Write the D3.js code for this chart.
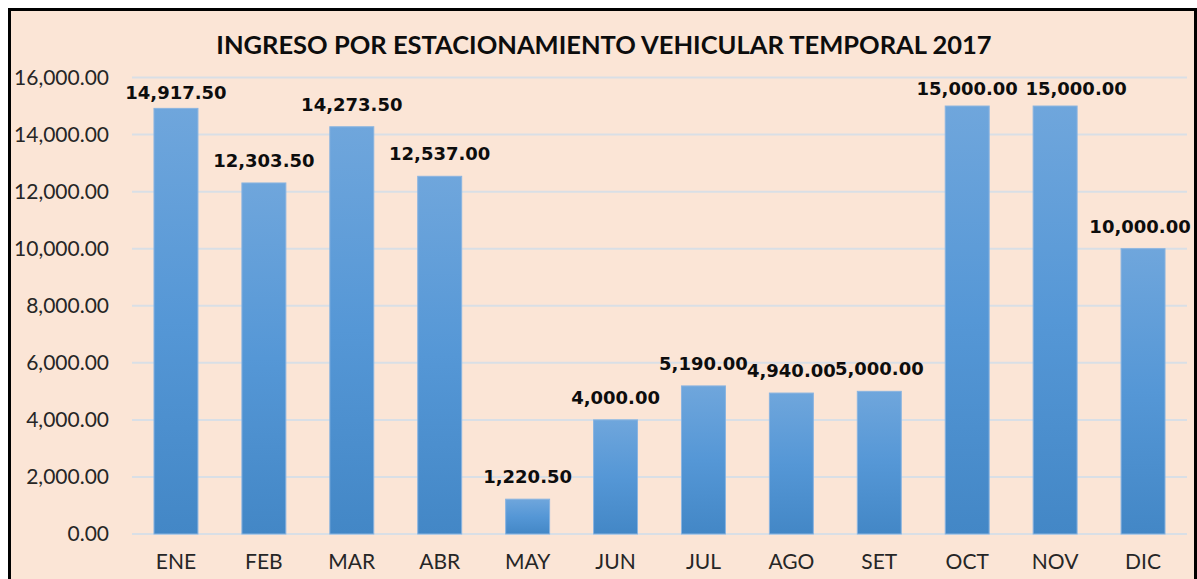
<!DOCTYPE html>
<html>
<head>
<meta charset="utf-8">
<script src="https://cdn.jsdelivr.net/npm/d3@7"></script>
<style>
  body { margin: 0; background: #fff; }
  svg { display: block; }
</style>
</head>
<body>
<script>
const months = ['ENE', 'FEB', 'MAR', 'ABR', 'MAY', 'JUN', 'JUL', 'AGO', 'SET', 'OCT', 'NOV', 'DIC'];
const ingresos = [14917.5, 12303.5, 14273.5, 12537, 1220.5, 4000, 5190, 4940, 5000, 15000, 15000, 10000];
const yTicks = [0, 2000, 4000, 6000, 8000, 10000, 12000, 14000, 16000];
const title = 'INGRESO POR ESTACIONAMIENTO VEHICULAR TEMPORAL 2017';

// labels that were dragged by hand in the original (px)
const labelDx = { NOV: 21, DIC: -3 };
const labelGap = { ENE: 9, OCT: 11, NOV: 11 };

const w = 1197;
const h = 579;
const plotLeft = 132, plotRight = 1187, plotTop = 77.5, plotBottom = 534;

const fmt = d3.format(',.2f');

const svg = d3.select('body')
    .append('svg')
    .attr('width', w)
    .attr('height', h)

// gradient for bars (lighter at top)
const grad = svg.append('defs')
    .append('linearGradient')
    .attr('id', 'barGrad')
    .attr('x1', 0).attr('y1', 0).attr('x2', 0).attr('y2', 1)
grad.append('stop').attr('offset', '0%').attr('stop-color', '#6fa6dc')
grad.append('stop').attr('offset', '50%').attr('stop-color', '#5597d6')
grad.append('stop').attr('offset', '100%').attr('stop-color', '#4387c6')

// chart area + border
svg.append('rect')
    .attr('x', 9.5)
    .attr('y', 9.5)
    .attr('width', 1186)
    .attr('height', 580)
    .attr('fill', '#fbe5d6')
    .attr('stroke', '#000')
    .attr('stroke-width', 3)

const xScale = d3.scaleBand()
    .domain(months)
    .range([plotLeft, plotRight])
    .paddingInner(0.5)
    .paddingOuter(0.25)

const yScale = d3.scaleLinear()
    .domain([0, 16000])
    .range([plotBottom, plotTop])

// gridlines
svg.append('g')
    .selectAll('line')
    .data(yTicks)
    .enter()
    .append('line')
    .attr('x1', plotLeft)
    .attr('x2', plotRight)
    .attr('y1', d => yScale(d))
    .attr('y2', d => yScale(d))
    .attr('stroke', '#d9dfe6')
    .attr('stroke-width', 2)

// y axis
const yAxis = d3.axisLeft(yScale)
    .tickValues(yTicks)
    .tickFormat(fmt)
    .tickSize(0)
    .tickPadding(0)

const yG = svg.append('g')
    .attr('transform', 'translate(109,0)')
    .call(yAxis)
yG.select('.domain').remove()
yG.selectAll('text')
    .attr('font-family', 'Lato, "Open Sans", sans-serif')
    .attr('font-size', 21)
    .attr('fill', '#262626')

// x axis
const xAxis = d3.axisBottom(xScale)
    .tickSize(0)
    .tickPadding(0)

const xG = svg.append('g')
    .attr('transform', 'translate(0,' + (plotBottom + 20) + ')')
    .call(xAxis)
xG.select('.domain').remove()
xG.selectAll('text')
    .attr('font-family', 'Lato, "Open Sans", sans-serif')
    .attr('font-size', 21)
    .attr('fill', '#262626')

// bars
svg.selectAll('rect.bar')
    .data(ingresos)
    .enter()
    .append('rect')
    .attr('class', 'bar')
    .attr('x', (d, i) => xScale(months[i]))
    .attr('y', d => yScale(d))
    .attr('width', xScale.bandwidth())
    .attr('height', d => plotBottom - yScale(d))
    .attr('fill', 'url(#barGrad)')
    .attr('stroke', '#8ab4e0')
    .attr('stroke-width', 1)

// data labels
svg.selectAll('text.lbl')
    .data(ingresos)
    .enter()
    .append('text')
    .attr('class', 'lbl')
    .attr('x', (d, i) => xScale(months[i]) + xScale.bandwidth() / 2 + (labelDx[months[i]] || 0))
    .attr('y', (d, i) => yScale(d) - (labelGap[months[i]] || 16))
    .attr('text-anchor', 'middle')
    .attr('font-family', '"DejaVu Sans", Verdana, sans-serif')
    .attr('font-weight', 'bold')
    .attr('font-size', 18)
    .attr('fill', '#0d0d0d')
    .text(d => fmt(d))

// title
svg.append('text')
    .attr('x', 604)
    .attr('y', 54)
    .attr('text-anchor', 'middle')
    .attr('font-family', 'Lato, "Open Sans", sans-serif')
    .attr('font-weight', 'bold')
    .attr('font-size', 25.5)
    .attr('fill', '#0d0d0d')
    .text(title)
</script>
</body>
</html>
